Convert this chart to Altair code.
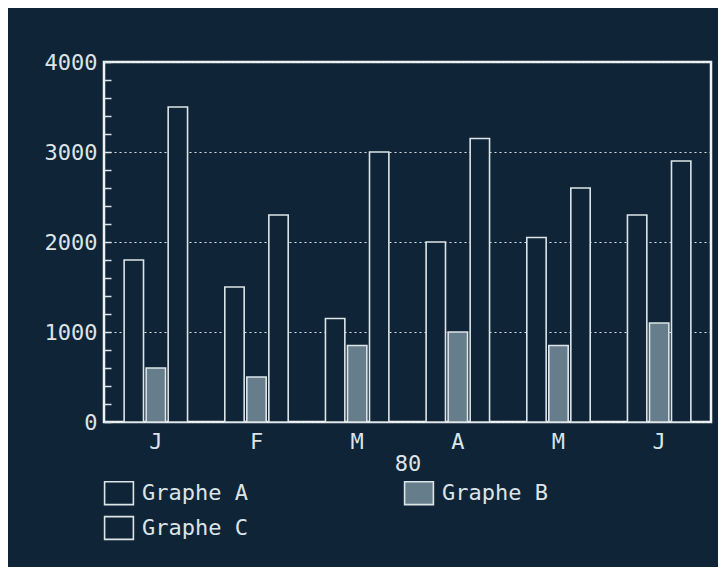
import altair as alt
import pandas as pd

months = ["J", "F", "M", "A", "M", "J"]
series = ["Graphe A", "Graphe B", "Graphe C"]
graphe_a = [1800, 1500, 1150, 2000, 2050, 2300]
graphe_b = [600, 500, 850, 1000, 850, 1100]
graphe_c = [3500, 2300, 3000, 3150, 2600, 2900]
year_label = "80"

BG = "#0f2537"
FG = "#dde4e8"
GRAY = "#667e8b"
FONT = "DejaVu Sans Mono"

rows = []
keys = [f"{i}{m}" for i, m in enumerate(months)]
for k, a, b, c in zip(keys, graphe_a, graphe_b, graphe_c):
    rows.append({"mois": k, "serie": series[0], "valeur": a})
    rows.append({"mois": k, "serie": series[1], "valeur": b})
    rows.append({"mois": k, "serie": series[2], "valeur": c})
df = pd.DataFrame(rows)

bars = alt.Chart(df).mark_bar(stroke=FG, strokeWidth=1.6).encode(
    x=alt.X(
        "mois:N",
        sort=keys,
        scale=alt.Scale(paddingInner=0.37, paddingOuter=0.2),
        axis=alt.Axis(
            title=year_label,
            labelExpr="substring(datum.label, 1)",
            labelAngle=0,
            ticks=False,
            domain=False,
            labelPadding=9,
            titlePadding=1,
        ),
    ),
    xOffset=alt.XOffset("serie:N", sort=series, scale=alt.Scale(paddingInner=0.12)),
    y=alt.Y(
        "valeur:Q",
        scale=alt.Scale(domain=[0, 4000], nice=False),
        axis=alt.Axis(
            title=None,
            values=list(range(0, 4001, 200)),
            format="d",
            labelExpr="datum.value % 1000 === 0 ? datum.label : ''",
            gridOpacity={"condition": {"test": "datum.value % 1000 === 0", "value": 1}, "value": 0},
            offset=-7,
            tickSize=7,
            labelPadding=7,
            domain=False,
        ),
    ),
    fill=alt.Fill(
        "serie:N",
        sort=series,
        scale=alt.Scale(domain=series, range=[BG, GRAY, BG]),
        legend=alt.Legend(
            title=None,
            orient="none",
            legendX=2,
            legendY=418,
            columns=2,
            columnPadding=153,
            rowPadding=5,
            values=[series[0], series[2], series[1]],
            symbolType="M-1.2,-0.95H1.2V0.95H-1.2Z",
            symbolSize=576,
            symbolStrokeColor=FG,
            symbolStrokeWidth=1.6,
            labelOffset=10,
            labelFontSize=22,
            labelFont=FONT,
            labelColor=FG,
            padding=0,
        ),
    ),
)

chart = bars.properties(
    width=607,
    height=360,
    autosize=alt.AutoSizeParams(type="none"),
    padding={"left": 96, "top": 54, "right": 7, "bottom": 145},
    background=BG,
).configure_view(
    stroke="#eef2f3",
    strokeWidth=2.5,
    fill=BG,
).configure_axis(
    labelFont=FONT,
    labelFontSize=22,
    labelColor=FG,
    titleFont=FONT,
    titleFontSize=22,
    titleFontWeight="normal",
    titleColor=FG,
    tickColor=FG,
    tickWidth=1.5,
    gridColor=FG,
    gridDash=[2, 3],
    gridWidth=1.2,
)

chart.save("out.html", embed_options={"renderer": "svg", "actions": False})
